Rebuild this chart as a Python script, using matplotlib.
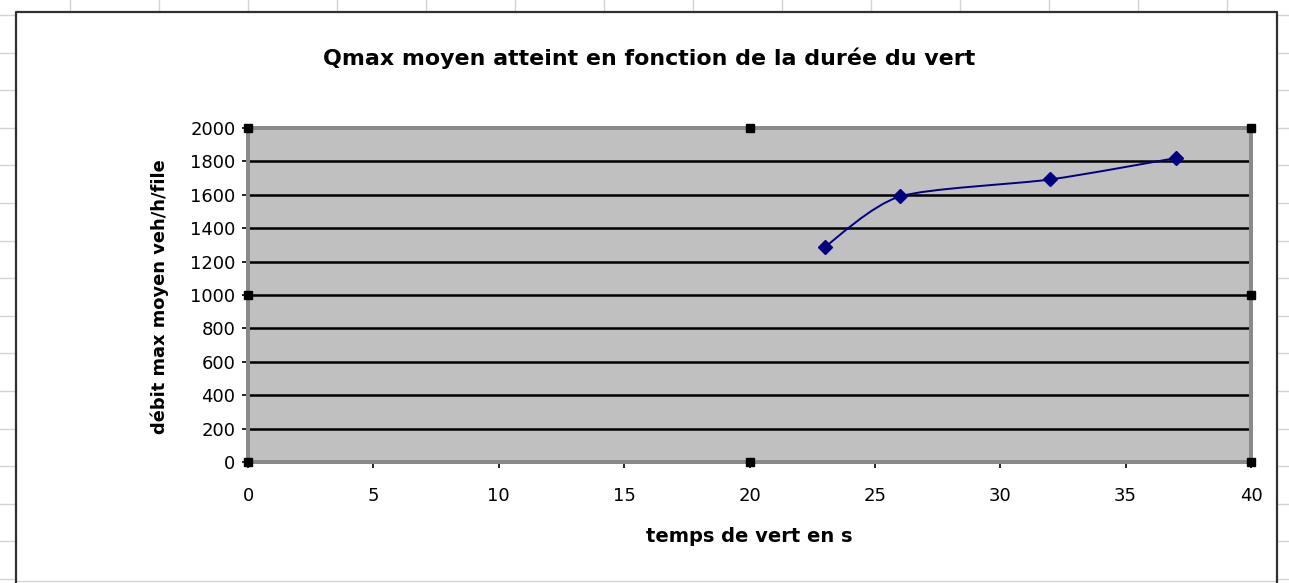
#!/usr/bin/env python3

import matplotlib
matplotlib.use("Agg")
import matplotlib.pyplot as plt
from matplotlib.lines import Line2D
from matplotlib.path import Path
from matplotlib.patches import PathPatch

# data
temps_vert = [23, 26, 32, 37]
debit_max = [1287, 1590, 1692, 1820]

title = "Qmax moyen atteint en fonction de la durée du vert"
xlabel = "temps de vert en s"
ylabel = "débit max moyen veh/h/file"
xticks = [0, 5, 10, 15, 20, 25, 30, 35, 40]
yticks = [0, 200, 400, 600, 800, 1000, 1200, 1400, 1600, 1800, 2000]

W, H = 1289, 583
NAVY = "#000080"


def smooth_path(xs, ys, k=1 / 8):
    # bezier through the points, like the "smoothed line" option of the spreadsheet
    pts = list(zip(xs, ys))
    n = len(pts)
    verts = [pts[0]]
    codes = [Path.MOVETO]
    for i in range(n - 1):
        p0 = pts[max(i - 1, 0)]
        p1 = pts[i]
        p2 = pts[i + 1]
        p3 = pts[min(i + 2, n - 1)]
        c1 = (p1[0] + (p2[0] - p0[0]) * k, p1[1] + (p2[1] - p0[1]) * k)
        c2 = (p2[0] - (p3[0] - p1[0]) * k, p2[1] - (p3[1] - p1[1]) * k)
        verts += [c1, c2, p2]
        codes += [Path.CURVE4] * 3
    return Path(verts, codes)


def px(x, y):
    return x / W, 1 - y / H


def sheet_background(fig):
    grey = "#d4d4d4"
    # spreadsheet cell lines peeking around the chart
    for x in range(70, 1240, 89):
        fig.add_artist(Line2D([x / W, x / W], [1, 1 - 12 / H], color=grey, lw=1))
    y = 15.0
    while y < H:
        fig.add_artist(Line2D([0, 16 / W], [1 - y / H] * 2, color=grey, lw=1))
        fig.add_artist(Line2D([1277 / W, 1], [1 - y / H] * 2, color=grey, lw=1))
        y += 37.6
    fig.add_artist(Line2D([16 / W, 1277 / W], [1 - 581 / H] * 2, color=grey, lw=1))
    # chart area border
    fig.add_artist(Line2D([16 / W, 16 / W, 1277 / W, 1277 / W],
                          [0, 1 - 12 / H, 1 - 12 / H, 0], color="#303030", lw=1.6))


def main():
    plt.rcParams["font.family"] = ["DejaVu Sans"]
    fig = plt.figure(figsize=(W / 100, H / 100), dpi=100, facecolor="white")
    sheet_background(fig)

    l, b = px(248, 462)
    r, t = px(1251, 128)
    ax = fig.add_axes([l, b, r - l, t - b])
    ax.set_facecolor("#c0c0c0")
    ax.set_xlim(0, 40)
    ax.set_ylim(0, 2000)
    ax.set_xticks(xticks)
    ax.set_yticks(yticks)
    ax.tick_params(direction="out", length=4, width=1.2, color="black",
                   labelsize=13, pad=5)
    ax.tick_params(axis="x", pad=14)
    for y in yticks[1:-1]:
        ax.axhline(y, color="black", lw=1.8, zorder=1)
    for s in ax.spines.values():
        s.set_color("#8a8a8a")
        s.set_linewidth(2.6)
        s.set_linestyle((0, (0.4, 0.4)))

    ax.add_patch(PathPatch(smooth_path(temps_vert, debit_max), fill=False,
                           edgecolor=NAVY, lw=1.4, zorder=3))
    ax.plot(temps_vert, debit_max, linestyle="none", marker="D", ms=7.5,
            color=NAVY, zorder=4)

    # selection handles of the plot area
    hx = [0, 0.5, 1, 0, 1, 0, 0.5, 1]
    hy = [0, 0, 0, 0.5, 0.5, 1, 1, 1]
    ax.plot(hx, hy, linestyle="none", marker="s", ms=5.5, color="black",
            mec="black", transform=ax.transAxes, clip_on=False, zorder=5)

    fig.text(*px(649, 58), title, ha="center", va="center",
             fontsize=15.9, fontweight="bold")
    fig.text(*px(749, 536), xlabel, ha="center", va="center",
             fontsize=14, fontweight="bold")
    fig.text(*px(160, 297), ylabel, ha="center", va="center", rotation=90,
             fontsize=12.9, fontweight="bold")

    plt.savefig("out.png", dpi=100, facecolor="white")
    plt.close()


if __name__ == "__main__":
    main()
